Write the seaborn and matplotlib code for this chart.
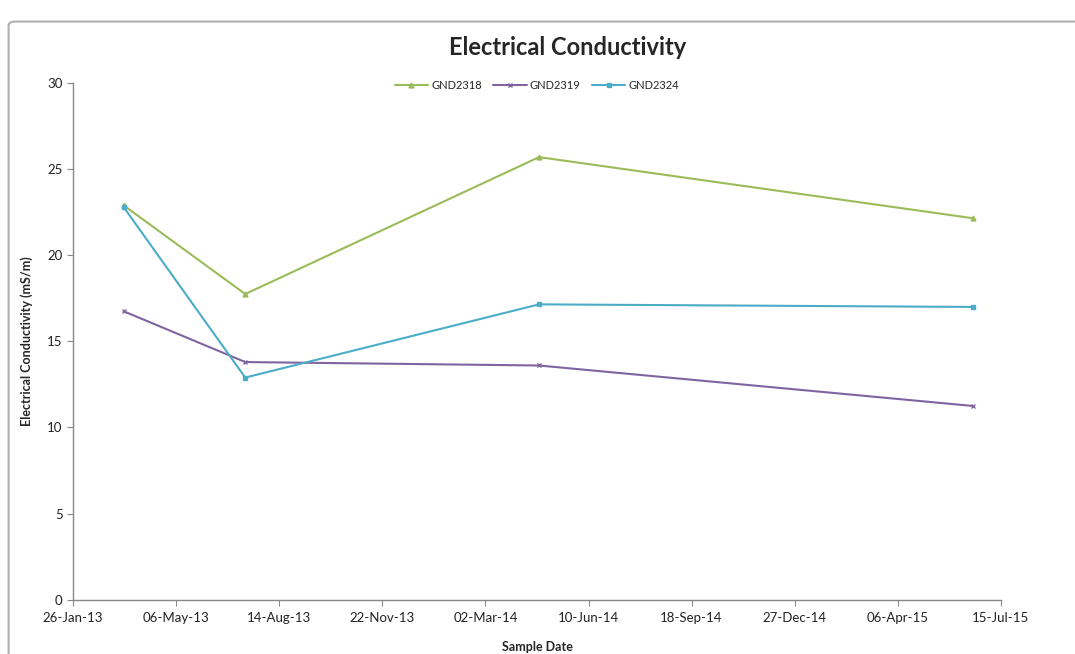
import matplotlib
matplotlib.use("Agg")
import matplotlib.pyplot as plt
import matplotlib.dates as mdates
from matplotlib.patches import FancyBboxPatch
import numpy as np
import pandas as pd
import seaborn as sns

# sample dates and readings (mS/m)
sample_dates = ["2013-03-16", "2013-07-12", "2014-04-23", "2015-06-18"]
gnd2318 = [22.9, 17.75, 25.7, 22.15]
gnd2319 = [16.75, 13.8, 13.6, 11.25]
gnd2324 = [22.8, 12.9, 17.15, 17.0]
series_names = ["GND2318", "GND2319", "GND2324"]

tick_start = "2013-01-26"
tick_step_days = 100
n_ticks = 10

df = pd.DataFrame({
    "date": pd.to_datetime(sample_dates * 3),
    "value": gnd2318 + gnd2319 + gnd2324,
    "bore": np.repeat(series_names, len(sample_dates)),
})

sns.set_style("white")
plt.rcParams['font.family'] = ['Lato', 'DejaVu Sans']

colors = {"GND2318": "#9BBB59", "GND2319": "#8064A2", "GND2324": "#4BACC6"}
markers = {"GND2318": "^", "GND2319": "x", "GND2324": "s"}

fig = plt.figure(figsize=(10.75, 6.54), dpi=100)
ax = fig.add_axes([0.068, 0.083, 0.863, 0.79])

# chart frame like the excel chart area (cropped right/bottom)
frame = FancyBboxPatch((0.008, -0.05), 1.2, 1.017, boxstyle="round,pad=0,rounding_size=0.006",
                       transform=fig.transFigure, fill=False, edgecolor="#b0b0b0", lw=1.5)
fig.patches.append(frame)

for name in series_names:
    sub = df[df["bore"] == name]
    sns.lineplot(data=sub, x="date", y="value", ax=ax, color=colors[name],
                 marker=markers[name], label=name, linewidth=1.5,
                 markersize=3.5, markeredgewidth=1.0, markeredgecolor=colors[name])

ticks = pd.date_range(tick_start, periods=n_ticks, freq=f"{tick_step_days}D")
ax.set_xticks(ticks)
ax.xaxis.set_major_formatter(mdates.DateFormatter("%d-%b-%y"))
ax.set_xlim(ticks[0], ticks[-1])
ax.set_ylim(0, 30)
ax.set_yticks(range(0, 31, 5))

for s in ["top", "right"]:
    ax.spines[s].set_visible(False)
for s in ["left", "bottom"]:
    ax.spines[s].set_color("#888888")
    ax.spines[s].set_linewidth(1)
ax.tick_params(axis="both", direction="out", length=4, width=0.8, color="#888888",
               labelsize=9.5, colors="#222222", bottom=True, left=True)
ax.tick_params(axis="x", pad=5)

ax.set_xlabel("Sample Date", fontsize=9, fontweight="bold", labelpad=12)
ax.set_ylabel("Electrical Conductivity (mS/m)", fontsize=9, fontweight="bold", labelpad=10)
fig.suptitle("Electrical Conductivity", fontsize=17, fontweight="bold", y=0.945, x=0.528)

handles, labels = ax.get_legend_handles_labels()
ax.legend(handles, labels, ncol=3, loc="upper center", bbox_to_anchor=(0.5, 1.025),
          frameon=False, fontsize=8, handlelength=3, columnspacing=1.0, handletextpad=0.3)

fig.savefig("out.png", dpi=100)
